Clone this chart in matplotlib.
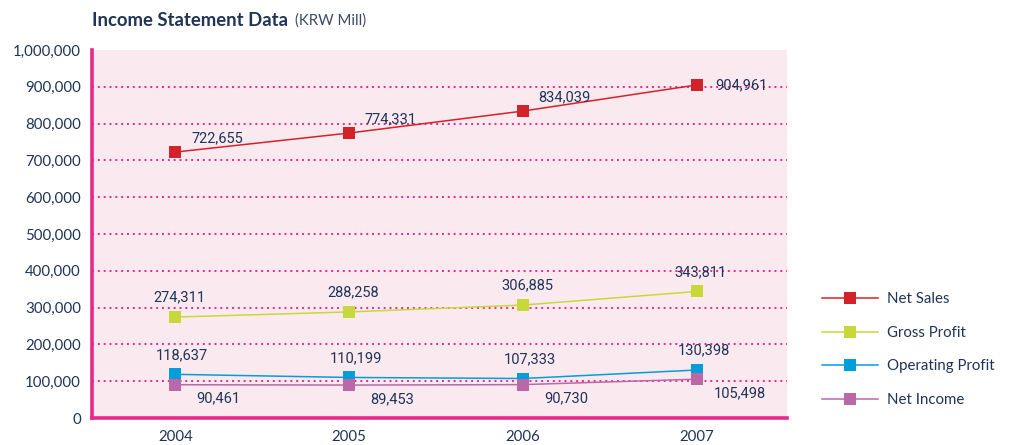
import matplotlib.pyplot as plt

years = ['2004', '2005', '2006', '2007']
net_sales = [722655, 774331, 834039, 904961]
gross_profit = [274311, 288258, 306885, 343811]
operating_profit = [118637, 110199, 107333, 130398]
net_income = [90461, 89453, 90730, 105498]
yticks = [0, 100000, 200000, 300000, 400000, 500000, 600000, 700000, 800000, 900000, 1000000]

navy = '#1f3456'
pink = '#e8288c'

plt.rcParams['font.family'] = ['Lato', 'DejaVu Sans']

fig = plt.figure(figsize=(10.19, 4.45), dpi=100)
ax = fig.add_axes([92/1019, 1 - 418/445, (787 - 92)/1019, (418 - 50)/445])
ax.set_facecolor('#fbe9f0')

x = list(range(len(years)))
# label offsets in points
series = [
    ('Net Sales', net_sales, '#d2232a', (30, 10)),
    ('Gross Profit', gross_profit, '#c6d83a', (3, 14)),
    ('Operating Profit', operating_profit, '#009fdb', (5, 14)),
    ('Net Income', net_income, '#bb68a8', (31, -10)),
]
for name, vals, col, off in series:
    ax.plot(x, vals, color=col, lw=1.1, marker='s', markersize=8,
            markeredgewidth=0, label=name, zorder=3)
    for i, v in enumerate(vals):
        o = off
        if name == 'Net Sales' and i == 3:
            o = (32, 0)
        ax.annotate(f'{v:,}', (i, v), xytext=o, textcoords='offset points',
                    ha='center', va='center', fontsize=10.5, color=navy,
                    family=['Roboto', 'DejaVu Sans'], zorder=4)

ax.set_xlim(-0.48, 3.52)
ax.set_ylim(0, 1000000)
ax.set_xticks(x)
ax.set_xticklabels(years)
ax.set_yticks(yticks)
ax.set_yticklabels([f'{t:,}' for t in yticks])
ax.tick_params(length=0, labelsize=10.8, labelcolor=navy)
ax.tick_params(axis='y', pad=8)
ax.tick_params(axis='x', pad=8.5)

ax.grid(axis='y', color=pink, linestyle=(0, (1, 2)), lw=1.4)
gl = ax.get_ygridlines()
gl[0].set_visible(False)
gl[-1].set_visible(False)
ax.set_axisbelow(True)

for s in ['top', 'right']:
    ax.spines[s].set_visible(False)
for s in ['left', 'bottom']:
    ax.spines[s].set_color(pink)
    ax.spines[s].set_linewidth(2.6)

t = fig.text(92/1019, 1 - 21/445, 'Income Statement Data', fontsize=13.3,
             fontweight='bold', color=navy, va='center')
fig.canvas.draw()
bb = t.get_window_extent()
fig.text((bb.x1 + 7)/1019, 1 - 21/445, '(KRW Mill)', fontsize=10.8,
         color='#3a4a66', va='center')

fig.legend(loc='center left', bbox_to_anchor=(822/1019, 1 - 349.5/445),
           frameon=False, borderpad=0, borderaxespad=0, fontsize=10.8,
           handlelength=3.7, labelspacing=1.3, handletextpad=0.65,
           labelcolor=navy, numpoints=1)

fig.savefig('out.png', dpi=100)
